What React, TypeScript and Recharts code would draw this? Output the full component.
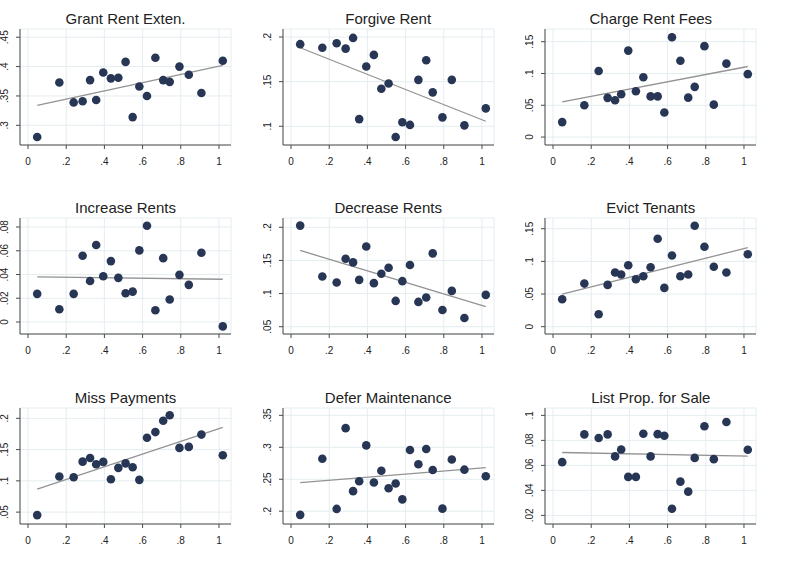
import { ScatterChart, Scatter, XAxis, YAxis, CartesianGrid } from "recharts";

// shared x values (same 20 units in every panel)
const shareX = [
  0.048, 0.164, 0.239, 0.286, 0.325, 0.357, 0.394, 0.434, 0.473, 0.511,
  0.548, 0.583, 0.623, 0.667, 0.708, 0.742, 0.793, 0.842, 0.908, 1.02,
];

const titles = [
  "Grant Rent Exten.",
  "Forgive Rent",
  "Charge Rent Fees",
  "Increase Rents",
  "Decrease Rents",
  "Evict Tenants",
  "Miss Payments",
  "Defer Maintenance",
  "List Prop. for Sale",
];

const grantRent = [0.28, 0.373, 0.339, 0.341, 0.377, 0.343, 0.39, 0.38, 0.381, 0.408, 0.314, 0.366, 0.35, 0.415, 0.377, 0.374, 0.4, 0.386, 0.355, 0.41];
const forgiveRent = [0.192, 0.188, 0.193, 0.187, 0.199, 0.108, 0.167, 0.18, 0.142, 0.148, 0.088, 0.1045, 0.1015, 0.152, 0.174, 0.138, 0.11, 0.152, 0.101, 0.12];
const chargeFees = [0.0235, 0.05, 0.104, 0.0617, 0.058, 0.0674, 0.136, 0.072, 0.094, 0.064, 0.064, 0.0387, 0.157, 0.12, 0.062, 0.079, 0.143, 0.051, 0.1155, 0.099];
const increaseRents = [0.0237, 0.0107, 0.0237, 0.0558, 0.0346, 0.0648, 0.0386, 0.0513, 0.0372, 0.0242, 0.0256, 0.0603, 0.0811, 0.0099, 0.0538, 0.0189, 0.0397, 0.0313, 0.0583, -0.0037];
const decreaseRents = [0.2025, 0.1258, 0.1167, 0.1525, 0.147, 0.1207, 0.171, 0.1157, 0.13, 0.139, 0.0889, 0.1187, 0.143, 0.0874, 0.094, 0.1606, 0.0753, 0.104, 0.0631, 0.098];
const evictTenants = [0.042, 0.066, 0.019, 0.064, 0.083, 0.08, 0.094, 0.0727, 0.0773, 0.091, 0.1347, 0.0594, 0.109, 0.0773, 0.08, 0.1546, 0.1224, 0.0917, 0.083, 0.111];
const missPayments = [0.0452, 0.107, 0.1058, 0.1307, 0.1366, 0.1266, 0.1303, 0.1026, 0.1207, 0.128, 0.1217, 0.1016, 0.169, 0.178, 0.196, 0.2048, 0.1527, 0.1543, 0.174, 0.141];
const deferMaint = [0.1943, 0.282, 0.2036, 0.33, 0.2314, 0.247, 0.303, 0.245, 0.2634, 0.236, 0.2433, 0.2185, 0.2959, 0.2736, 0.2974, 0.2645, 0.204, 0.281, 0.265, 0.2547];
const listForSale = [0.0626, 0.0848, 0.0819, 0.0848, 0.0672, 0.0727, 0.0508, 0.0508, 0.0853, 0.0672, 0.085, 0.0837, 0.0253, 0.047, 0.039, 0.066, 0.0913, 0.065, 0.0947, 0.0725];

const seriesY = [grantRent, forgiveRent, chargeFees, increaseRents, decreaseRents, evictTenants, missPayments, deferMaint, listForSale];

// fitted line end points (x from fitX, y)
const fitX = [0.048, 1.02];
const fitY = [
  [0.334, 0.402],
  [0.188, 0.1056],
  [0.0554, 0.111],
  [0.038, 0.036],
  [0.165, 0.0803],
  [0.0497, 0.121],
  [0.0867, 0.1857],
  [0.2448, 0.2681],
  [0.0703, 0.0674],
];

const xTicks = [0, 0.2, 0.4, 0.6, 0.8, 1];
const yTicks = [
  [0.3, 0.35, 0.4, 0.45],
  [0.1, 0.15, 0.2],
  [0, 0.05, 0.1, 0.15],
  [0, 0.02, 0.04, 0.06, 0.08],
  [0.05, 0.1, 0.15, 0.2],
  [0, 0.05, 0.1, 0.15],
  [0.05, 0.1, 0.15, 0.2],
  [0.2, 0.25, 0.3, 0.35],
  [0.02, 0.04, 0.06, 0.08, 0.1],
];
const yDomains = [
  [0.2665, 0.464],
  [0.079, 0.209],
  [-0.0125, 0.17],
  [-0.0101, 0.0876],
  [0.039, 0.214],
  [-0.0112, 0.1664],
  [0.031, 0.2165],
  [0.18, 0.3615],
  [0.0131, 0.1059],
];

const NAVY = "#283655";
const AXIS = "#4a4a4a";
const GRID = "#e4edf0";
const TEXT = "#222";
const FONT = "'Liberation Sans', Arial, sans-serif";

const fmt = (v: number) => String(v).replace(/^0\./, ".").replace(/^-0\./, "-.");

function YTick(props: any) {
  const { x, y, payload } = props;
  return (
    <text
      x={x}
      y={y}
      transform={`rotate(-90 ${x} ${y})`}
      textAnchor="middle"
      fontSize={10}
      fontFamily={FONT}
      fill={TEXT}
    >
      {fmt(payload.value)}
    </text>
  );
}

const Dot = (p: any) => <circle cx={p.cx} cy={p.cy} r={4.3} fill={NAVY} />;
const NoDot = () => <g />;

const PW = 258;
const PH = 190;
const colLeft = [0, 262.7, 525.3];
const rowTop = [0, 189, 379];

function Panel({ i }: { i: number }) {
  const pts = shareX.map((x, k) => ({ x, y: seriesY[i][k] }));
  const fit = fitX.map((x, k) => ({ x, y: fitY[i][k] }));
  return (
    <div style={{ position: "absolute", left: colLeft[i % 3], top: rowTop[Math.floor(i / 3)], width: PW, height: PH }}>
      <div
        style={{
          position: "absolute",
          left: 20,
          width: 211,
          top: 11.3,
          textAlign: "center",
          fontFamily: FONT,
          fontSize: 15,
          lineHeight: "15px",
          color: TEXT,
          whiteSpace: "nowrap",
        }}
      >
        {titles[i]}
      </div>
      <ScatterChart width={PW} height={PH} margin={{ top: 29, right: 27, left: 0, bottom: 15 }}>
        <CartesianGrid stroke={GRID} strokeWidth={1} />
        <XAxis
          type="number"
          dataKey="x"
          domain={[-0.042, 1.063]}
          ticks={xTicks}
          allowDataOverflow
          height={30}
          tickFormatter={fmt}
          tickSize={4}
          tickMargin={9}
          stroke={AXIS}
          tick={{ fontSize: 10, fontFamily: FONT, fill: TEXT }}
        />
        <YAxis
          type="number"
          dataKey="y"
          domain={yDomains[i]}
          ticks={yTicks[i]}
          allowDataOverflow
          width={20}
          tickSize={4}
          tickMargin={8}
          stroke={AXIS}
          tick={<YTick />}
        />
        <Scatter data={fit} line={{ stroke: "#939393", strokeWidth: 1.3 }} shape={NoDot} isAnimationActive={false} />
        <Scatter data={pts} shape={Dot} isAnimationActive={false} />
      </ScatterChart>
    </div>
  );
}

export default function App() {
  return (
    <div style={{ position: "absolute", left: 0, top: 0, width: 785, height: 573, background: "#fff", overflow: "hidden" }}>
      {titles.map((t, i) => (
        <Panel key={t} i={i} />
      ))}
    </div>
  );
}
